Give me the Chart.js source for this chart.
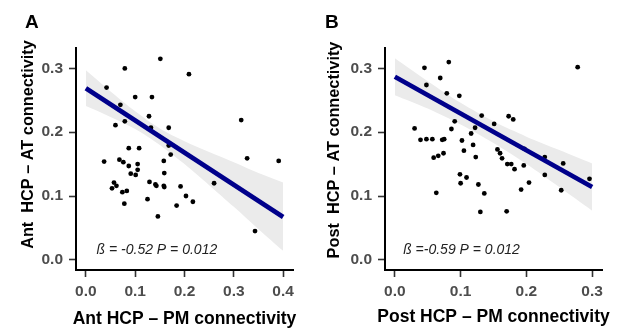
<!DOCTYPE html>
<html><head><meta charset="utf-8">
<script src="https://cdn.jsdelivr.net/npm/chart.js@4/dist/chart.umd.min.js"></script>
<style>
html,body{margin:0;padding:0;background:#fff;width:621px;height:329px;overflow:hidden}
canvas{position:absolute;top:0}
#cA{left:0}
#cB{left:310px}
</style></head><body>
<canvas id="cA" width="310" height="329"></canvas>
<canvas id="cB" width="311" height="329"></canvas>
<script>
// ---------- Panel A data ----------
const aX = [0.042,0.079,0.151,0.209,0.100,0.134,0.070,0.128,0.079,0.060,0.132,0.168,0.315,0.168,0.087,0.108,0.172,0.037,0.068,0.076,0.158,0.087,0.105,0.105,0.091,0.101,0.159,0.327,0.391,0.260,0.057,0.062,0.053,0.074,0.083,0.129,0.141,0.143,0.158,0.159,0.192,0.125,0.203,0.217,0.078,0.184,0.146,0.343];
const aY = [0.270,0.300,0.315,0.291,0.255,0.255,0.243,0.225,0.217,0.211,0.207,0.207,0.219,0.179,0.175,0.175,0.165,0.154,0.157,0.153,0.155,0.147,0.150,0.141,0.135,0.133,0.136,0.159,0.155,0.120,0.121,0.116,0.112,0.106,0.108,0.122,0.118,0.116,0.116,0.114,0.115,0.095,0.100,0.091,0.088,0.085,0.068,0.045];
const fitXA = [0, 0.4];
const fitYA = [0.269, 0.067];
const bandXA = [0,0.05,0.1,0.15,0.2,0.25,0.3,0.35,0.4];
const upperA = [0.297,0.264,0.233,0.206,0.186,0.169,0.153,0.136,0.121];
const lowerA = [0.241,0.224,0.205,0.180,0.150,0.117,0.083,0.048,0.014];
const xTicksA = [0,0.1,0.2,0.3,0.4];

// ---------- Panel B data ----------
const bX = [0.045,0.082,0.069,0.048,0.079,0.098,0.278,0.030,0.091,0.086,0.132,0.151,0.173,0.180,0.122,0.116,0.039,0.048,0.057,0.072,0.075,0.102,0.119,0.105,0.074,0.066,0.059,0.123,0.156,0.160,0.163,0.197,0.171,0.177,0.182,0.196,0.228,0.256,0.099,0.109,0.100,0.127,0.204,0.228,0.296,0.192,0.253,0.063,0.136,0.130,0.170];
const bY = [0.301,0.310,0.285,0.274,0.261,0.257,0.302,0.206,0.217,0.205,0.226,0.213,0.225,0.220,0.207,0.198,0.188,0.189,0.189,0.188,0.189,0.187,0.180,0.171,0.167,0.163,0.160,0.161,0.173,0.167,0.159,0.174,0.150,0.150,0.142,0.148,0.161,0.151,0.134,0.129,0.120,0.118,0.121,0.133,0.127,0.110,0.109,0.105,0.104,0.075,0.076];
const fitXB = [0, 0.30];
const fitYB = [0.287, 0.114];
const bandXB = [0,0.05,0.1,0.15,0.2,0.25,0.3];
const upperB = [0.316,0.280,0.246,0.217,0.193,0.172,0.151];
const lowerB = [0.258,0.237,0.212,0.183,0.150,0.114,0.077];
const xTicksB = [0,0.1,0.2,0.3];

const yTicks = [0,0.1,0.2,0.3];
const letters = ['A','B'];
const xTitles = ['Ant HCP \u2013 PM connectivity','Post HCP \u2013 PM connectivity'];
const yTitles = ['Ant  HCP \u2013 AT connectivity','Post  HCP \u2013 AT connectivity'];
const stats = ['\u00df = -0.52 P = 0.012','\u00df =-0.59 P = 0.012'];

const FONT = '"Liberation Sans", Arial, sans-serif';
const pts = (xs, ys) => xs.map((x, i) => ({x, y: ys[i]}));

const textPlugin = {
  id: 'panelText',
  afterDraw(chart, args, o) {
    const ctx = chart.ctx, a = chart.chartArea;
    ctx.save();
    ctx.fillStyle = '#000';
    ctx.font = 'bold 19px ' + FONT;
    ctx.textAlign = 'left'; ctx.textBaseline = 'alphabetic';
    ctx.fillText(o.letter, o.letterX, 28.3);
    ctx.font = 'bold 17.5px ' + FONT;
    ctx.textAlign = 'center';
    ctx.fillText(o.xTitle, (a.left + a.right) / 2, o.xTitleY);
    ctx.translate(o.yTitleX, o.yTitleY);
    ctx.rotate(-Math.PI / 2);
    ctx.font = 'bold 16.3px ' + FONT;
    ctx.textBaseline = 'middle';
    ctx.fillText(o.yTitle, 0, 0);
    ctx.restore();
    ctx.save();
    ctx.font = 'italic 14px ' + FONT;
    ctx.fillStyle = '#222';
    ctx.textAlign = 'left'; ctx.textBaseline = 'middle';
    ctx.fillText(o.stat, chart.scales.x.getPixelForValue(o.statX), chart.scales.y.getPixelForValue(o.statY));
    ctx.restore();
  }
};

function makeChart(id, p) {
  const axisCommon = {
    type: 'linear',
    grid: {drawOnChartArea: false, drawTicks: true, tickLength: 7, tickColor: '#333', tickWidth: 1.6},
    border: {display: true, color: '#000', width: 2},
  };
  const tickFont = {family: FONT, size: 15.5, weight: 'bold'};
  return new Chart(document.getElementById(id), {
    type: 'scatter',
    data: {
      datasets: [
        {type: 'line', data: pts(p.fitX, p.fitY), borderColor: '#00008B', borderWidth: 4.7, pointRadius: 0, fill: false, order: 0},
        {type: 'scatter', data: pts(p.xs, p.ys), backgroundColor: '#000', borderColor: '#000', borderWidth: 0, pointRadius: 2.4, order: 1},
        {type: 'line', data: pts(p.bandX, p.upper), borderColor: 'transparent', borderWidth: 0, pointRadius: 0, fill: '+1', backgroundColor: 'rgb(235,235,235)', tension: 0.3, order: 2},
        {type: 'line', data: pts(p.bandX, p.lower), borderColor: 'transparent', borderWidth: 0, pointRadius: 0, fill: false, tension: 0.3, order: 3}
      ]
    },
    options: {
      responsive: false, animation: false, events: [],
      layout: {padding: {left: 0, top: 48, right: p.padRight, bottom: 0}},
      plugins: {
        legend: {display: false}, tooltip: {enabled: false},
        panelText: p.text
      },
      scales: {
        x: Object.assign({}, axisCommon, {
          min: p.xMin, max: p.xMax,
          afterBuildTicks: s => { s.ticks = p.xTicks.map(v => ({value: v})); },
          afterFit: s => { s.height = 59; },
          ticks: {color: '#4d4d4d', font: tickFont, padding: 5, maxRotation: 0, autoSkip: false, callback: v => Number(v).toFixed(1)}
        }),
        y: Object.assign({}, axisCommon, {
          min: -0.016, max: 0.332,
          afterBuildTicks: s => { s.ticks = yTicks.map(v => ({value: v})); },
          afterFit: s => { s.width = p.yWidth; },
          ticks: {color: '#4d4d4d', font: tickFont, padding: 6, autoSkip: false, callback: v => Number(v).toFixed(1)}
        })
      }
    },
    plugins: [textPlugin]
  });
}

makeChart('cA', {
  xs: aX, ys: aY, fitX: fitXA, fitY: fitYA, bandX: bandXA, upper: upperA, lower: lowerA,
  xTicks: xTicksA, xMin: -0.02, xMax: 0.42, yWidth: 76, padRight: 17,
  text: {letter: letters[0], letterX: 25, xTitle: xTitles[0], xTitleY: 323.5, yTitle: yTitles[0], yTitleX: 28.5, yTitleY: 144.5, stat: stats[0], statX: 0.0217, statY: 0.0156}
});
makeChart('cB', {
  xs: bX, ys: bY, fitX: fitXB, fitY: fitYB, bandX: bandXB, upper: upperB, lower: lowerB,
  xTicks: xTicksB, xMin: -0.015, xMax: 0.315, yWidth: 75, padRight: 19,
  text: {letter: letters[1], letterX: 15, xTitle: xTitles[1], xTitleY: 321.5, yTitle: yTitles[1], yTitleX: 24.2, yTitleY: 150, stat: stats[1], statX: 0.0126, statY: 0.0156}
});
</script>
</body></html>
